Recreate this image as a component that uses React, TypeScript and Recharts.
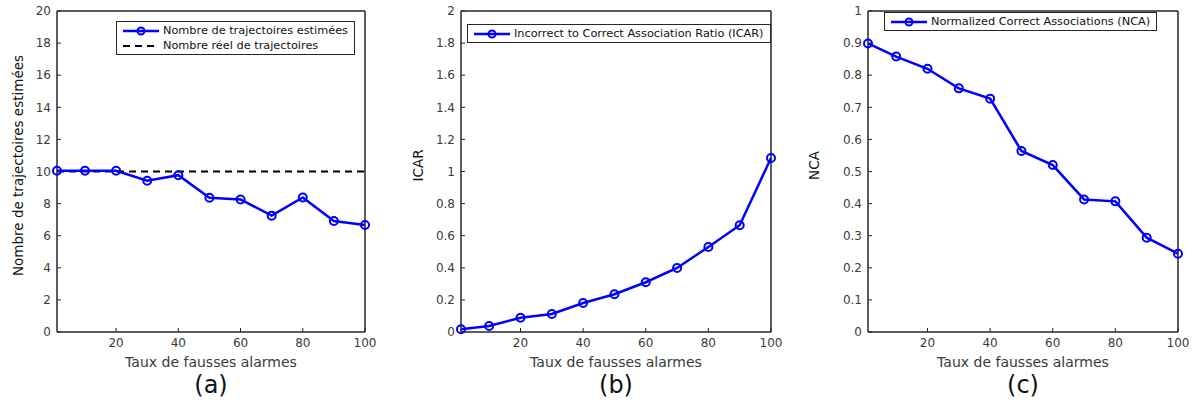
import React from "react";
import { LineChart, Line, XAxis, YAxis, Legend, Label, ReferenceArea } from "recharts";

// Taux de fausses alarmes (axe x commun)
const tauxFaussesAlarmes = [1, 10, 20, 30, 40, 50, 60, 70, 80, 90, 100];

// (a) nombre de trajectoires
const nombreEstime = [10.05, 10.05, 10.05, 9.42, 9.77, 8.37, 8.26, 7.25, 8.38, 6.92, 6.67];
const nombreReel = [10, 10, 10, 10, 10, 10, 10, 10, 10, 10, 10];

// (b) ICAR
const icar = [0.017, 0.037, 0.089, 0.112, 0.181, 0.235, 0.31, 0.399, 0.53, 0.665, 1.084];

// (c) NCA
const nca = [0.899, 0.858, 0.82, 0.759, 0.727, 0.564, 0.52, 0.413, 0.407, 0.294, 0.244];

const xTicks = [20, 40, 60, 80, 100];
const yTicksA = [0, 2, 4, 6, 8, 10, 12, 14, 16, 18, 20];
const yTicksB = [0, 0.2, 0.4, 0.6, 0.8, 1, 1.2, 1.4, 1.6, 1.8, 2];
const yTicksC = [0, 0.1, 0.2, 0.3, 0.4, 0.5, 0.6, 0.7, 0.8, 0.9, 1];

const FONT = "'DejaVu Sans', sans-serif";
const AXIS = "#262626";
const TEXT = "#3a3a3a";
const BLUE = "#0000ff";
const TICK_LEN = 4;

const dataA = tauxFaussesAlarmes.map((x, i) => ({ x, estime: nombreEstime[i], reel: nombreReel[i] }));
const dataB = tauxFaussesAlarmes.map((x, i) => ({ x, icar: icar[i] }));
const dataC = tauxFaussesAlarmes.map((x, i) => ({ x, nca: nca[i] }));

type LegendItem = { label: string; dashed?: boolean; marker?: boolean; color: string };

const LegendBox = ({ items }: { items: LegendItem[] }) => (
  <div
    style={{
      border: `1px solid ${AXIS}`,
      background: "#fff",
      padding: "1px 6px 1px 4px",
      fontFamily: FONT,
      fontSize: 11.3,
      color: "#111",
      whiteSpace: "nowrap",
    }}
  >
    {items.map((it) => (
      <div key={it.label} style={{ display: "flex", alignItems: "center", height: 15 }}>
        <svg width={40} height={12} style={{ marginRight: 2 }}>
          <line
            x1={2}
            x2={38}
            y1={6}
            y2={6}
            stroke={it.color}
            strokeWidth={it.dashed ? 2 : 2.5}
            strokeDasharray={it.dashed ? "7 5" : undefined}
          />
          {it.marker && <circle cx={20} cy={6} r={3.5} fill="none" stroke={it.color} strokeWidth={2} />}
        </svg>
        <span>{it.label}</span>
      </div>
    ))}
  </div>
);

const tickStyle = { fill: TEXT, fontSize: 12, fontFamily: FONT };

type PanelProps = {
  left: number;
  width: number;
  yWidth: number;
  marginRight: number;
  data: any[];
  yDomain: [number, number];
  yTicks: number[];
  yLabel: string;
  letter: string;
  mirrorKey: string;
  legendItems: LegendItem[];
  legendPos: { left: number; top: number };
  children: React.ReactNode;
};

const Panel = ({ left, width, yWidth, marginRight, data, yDomain, yTicks, yLabel, letter, mirrorKey, legendItems, legendPos, children }: PanelProps) => (
  <div style={{ position: "absolute", left, top: 0 }}>
    <LineChart width={width} height={405} data={data} margin={{ top: 11, right: marginRight, bottom: 0, left: 0 }}>
      <XAxis
        dataKey="x"
        type="number"
        domain={[1, 100]}
        ticks={xTicks}
        height={73}
        stroke={AXIS}
        tickSize={-TICK_LEN}
        tickMargin={10}
        tick={tickStyle}
      >
        <Label value="Taux de fausses alarmes" position="insideTop" offset={25} style={{ fill: TEXT, fontSize: 14, fontFamily: FONT }} />
        <Label value={letter} position="insideBottom" offset={12} style={{ fill: "#111", fontSize: 24, fontFamily: FONT }} />
      </XAxis>
      <YAxis
        type="number"
        domain={yDomain}
        ticks={yTicks}
        width={yWidth}
        stroke={AXIS}
        tickSize={-TICK_LEN}
        tickMargin={10}
        tick={tickStyle}
      >
        <Label value={yLabel} angle={-90} position="center" dx={-(yWidth / 2) + 18} dy={-6} style={{ fill: "#111", fontSize: 13.5, fontFamily: FONT }} />
      </YAxis>
      {/* mirrored top / right axes close the box (mirror axes take no space) */}
      <XAxis
        xAxisId="top"
        dataKey="x"
        orientation="top"
        mirror
        type="number"
        domain={[1, 100]}
        ticks={xTicks}
        stroke={AXIS}
        tickSize={TICK_LEN}
        tick={false}
      />
      <YAxis
        yAxisId="right"
        orientation="right"
        mirror
        type="number"
        domain={yDomain}
        ticks={yTicks}
        stroke={AXIS}
        tickSize={TICK_LEN}
        tick={false}
      />
      <ReferenceArea x1={1} x2={100} y1={yDomain[0]} y2={yDomain[1]} fill="none" fillOpacity={0} stroke={AXIS} strokeWidth={1} />
      <Legend
        layout="vertical"
        align="center"
        verticalAlign="middle"
        wrapperStyle={{ left: legendPos.left, top: legendPos.top, width: "auto", height: "auto" }}
        content={() => <LegendBox items={legendItems} />}
      />
      <Line
        xAxisId="top"
        yAxisId="right"
        dataKey={mirrorKey}
        stroke="none"
        dot={false}
        activeDot={false}
        legendType="none"
        isAnimationActive={false}
      />
      {children}
    </LineChart>
  </div>
);

const dot = { r: 4, fill: "none", stroke: BLUE, strokeWidth: 2 };

export default function App() {
  return (
    <div style={{ position: "absolute", left: 0, top: 0, width: 1196, height: 405, background: "#fff" }}>
      <Panel
        left={0}
        width={400}
        yWidth={57}
        marginRight={35}
        data={dataA}
        yDomain={[0, 20]}
        yTicks={yTicksA}
        yLabel="Nombre de trajectoires estimées"
        letter="(a)"
        mirrorKey="estime"
        legendPos={{ left: 116, top: 21 }}
        legendItems={[
          { label: "Nombre de trajectoires estimées", marker: true, color: BLUE },
          { label: "Nombre réel de trajectoires", dashed: true, color: "#000" },
        ]}
      >
        <Line dataKey="reel" stroke="#000" strokeWidth={2} strokeDasharray="7 5" dot={false} isAnimationActive={false} />
        <Line dataKey="estime" stroke={BLUE} strokeWidth={2.5} dot={dot} isAnimationActive={false} />
      </Panel>
      <Panel
        left={400}
        width={400}
        yWidth={61}
        marginRight={29}
        data={dataB}
        yDomain={[0, 2]}
        yTicks={yTicksB}
        yLabel="ICAR"
        letter="(b)"
        mirrorKey="icar"
        legendPos={{ left: 67, top: 24 }}
        legendItems={[{ label: "Incorrect to Correct Association Ratio (ICAR)", marker: true, color: BLUE }]}
      >
        <Line dataKey="icar" stroke={BLUE} strokeWidth={2.5} dot={dot} isAnimationActive={false} />
      </Panel>
      <Panel
        left={796}
        width={400}
        yWidth={72}
        marginRight={18}
        data={dataC}
        yDomain={[0, 1]}
        yTicks={yTicksC}
        yLabel="NCA"
        letter="(c)"
        mirrorKey="nca"
        legendPos={{ left: 88, top: 12 }}
        legendItems={[{ label: "Normalized Correct Associations (NCA)", marker: true, color: BLUE }]}
      >
        <Line dataKey="nca" stroke={BLUE} strokeWidth={2.5} dot={dot} isAnimationActive={false} />
      </Panel>
    </div>
  );
}
